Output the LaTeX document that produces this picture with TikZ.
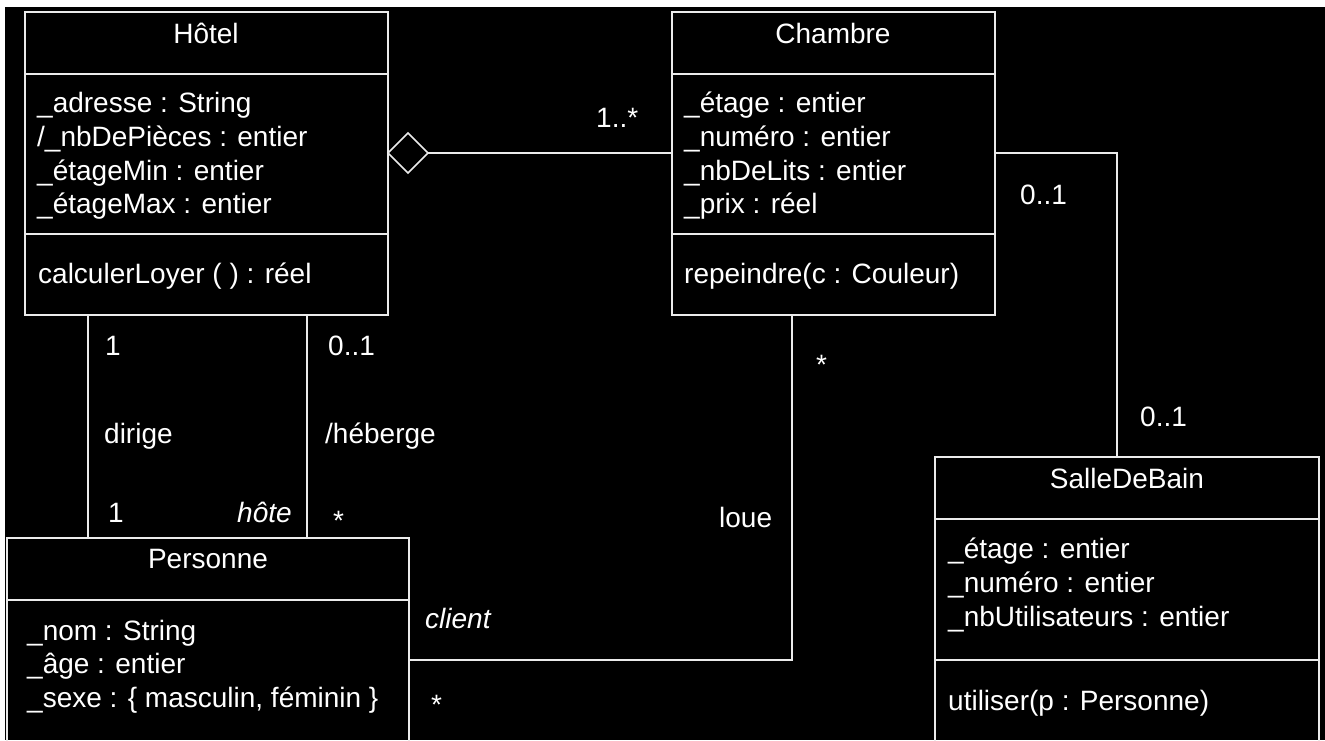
\documentclass[tikz,border=0pt]{standalone}
\usepackage{fontspec}
\setmainfont{Liberation Sans}
\usetikzlibrary{shapes.geometric}
\definecolor{linecol}{RGB}{235,235,235}
\tikzset{
  classbox/.style={draw=linecol, line width=1.6pt, rectangle, inner sep=0pt, outer sep=0pt, anchor=north west},
  sepline/.style={draw=linecol, line width=1.6pt},
  conn/.style={draw=linecol, line width=1.6pt},
  txt/.style={anchor=base west, inner sep=0pt, text=white, font=\fontsize{28}{34}\selectfont},
  ttl/.style={anchor=base, inner sep=0pt, text=white, font=\fontsize{28}{34}\selectfont},
  itxt/.style={txt, font=\fontsize{28}{34}\selectfont\itshape},
  aggr/.style={diamond, draw=linecol, line width=1.6pt, fill=black, minimum width=40pt, minimum height=40pt, inner sep=0pt, outer sep=0pt, aspect=1}
}
\begin{document}
\begin{tikzpicture}[x=1pt,y=-1pt]
\useasboundingbox (0,0) rectangle (1325,740);
\clip (0,0) rectangle (1325,740);
\fill[white] (0,0) rectangle (1325,740);
\fill[black] (5,7) rectangle (1325,740);

% ---------- Hôtel ----------
\node[classbox, minimum width=363pt, minimum height=303pt] (hotel) at (25,12) {};
\draw[sepline] (25,74) -- (388,74);
\draw[sepline] (25,234) -- (388,234);
\node[ttl] (hotelT) at (206,43) {Hôtel};
\node[txt] (h1) at (37,112) {\_adresse : String};
\node[txt] (h2) at (37,146) {/\_nbDePièces : entier};
\node[txt] (h3) at (37,180) {\_étageMin : entier};
\node[txt] (h4) at (37,213) {\_étageMax : entier};
\node[txt] (h5) at (38,283) {calculerLoyer ( ) : réel};

% ---------- Chambre ----------
\node[classbox, minimum width=323pt, minimum height=303pt] (chambre) at (672,12) {};
\draw[sepline] (672,74) -- (995,74);
\draw[sepline] (672,234) -- (995,234);
\node[ttl] (chT) at (833,43) {Chambre};
\node[txt] (c1) at (684,112) {\_étage : entier};
\node[txt] (c2) at (684,146) {\_numéro : entier};
\node[txt] (c3) at (684,180) {\_nbDeLits : entier};
\node[txt] (c4) at (684,213) {\_prix : réel};
\node[txt] (c5) at (684,283) {repeindre(c : Couleur)};

% ---------- Personne ----------
\node[classbox, minimum width=402pt, minimum height=262pt] (personne) at (7,538) {};
\draw[sepline] (7,600) -- (409,600);
\node[ttl] (pT) at (208,568) {Personne};
\node[txt] (p1) at (27,640) {\_nom : String};
\node[txt] (p2) at (27,673) {\_âge : entier};
\node[txt] (p3) at (27,707) {\_sexe : \{ masculin, féminin \}};

% ---------- SalleDeBain ----------
\node[classbox, minimum width=384pt, minimum height=343pt] (salle) at (935,457) {};
\draw[sepline] (935,519) -- (1319,519);
\draw[sepline] (935,660) -- (1319,660);
\node[ttl] (sT) at (1127,488) {SalleDeBain};
\node[txt] (s1) at (948,558) {\_étage : entier};
\node[txt] (s2) at (948,592) {\_numéro : entier};
\node[txt] (s3) at (948,626) {\_nbUtilisateurs : entier};
\node[txt] (s4) at (948,710) {utiliser(p : Personne)};

% ---------- Aggregation Hôtel - Chambre ----------
\node[aggr] (diam) at (408,153) {};
\draw[conn] (diam.east) -- (diam.east -| chambre.west);
\node[txt] (m1) at (596,127) {1..*};

% ---------- Chambre - SalleDeBain ----------
\coordinate (cs) at (1117,153);
\draw[conn] (cs -| chambre.east) -- (cs) -- (cs |- salle.north);
\node[txt] (m2) at (1020,204) {0..1};
\node[txt] (m3) at (1140,426) {0..1};

% ---------- dirige ----------
\coordinate (dx) at (88,0);
\draw[conn] (hotel.south -| dx) -- (personne.north -| dx);
\node[txt] (m4) at (105,355) {1};
\node[txt] (l1) at (104,443) {dirige};
\node[txt] (m5) at (108,522) {1};
\node[itxt] (r1) at (237,522) {hôte};

% ---------- /héberge ----------
\coordinate (hx) at (307,0);
\draw[conn] (hotel.south -| hx) -- (personne.north -| hx);
\node[txt] (m6) at (328,355) {0..1};
\node[txt] (l2) at (325,443) {/héberge};
\node[txt] (m7) at (333,530) {*};

% ---------- loue ----------
\coordinate (lc) at (792,660);
\draw[conn] (chambre.south -| lc) -- (lc) -- (lc -| personne.east);
\node[txt] (m8) at (816,374) {*};
\node[txt] (l3) at (719,527) {loue};
\node[itxt] (r2) at (425,628) {client};
\node[txt] (m9) at (431,714) {*};
\end{tikzpicture}
\end{document}
